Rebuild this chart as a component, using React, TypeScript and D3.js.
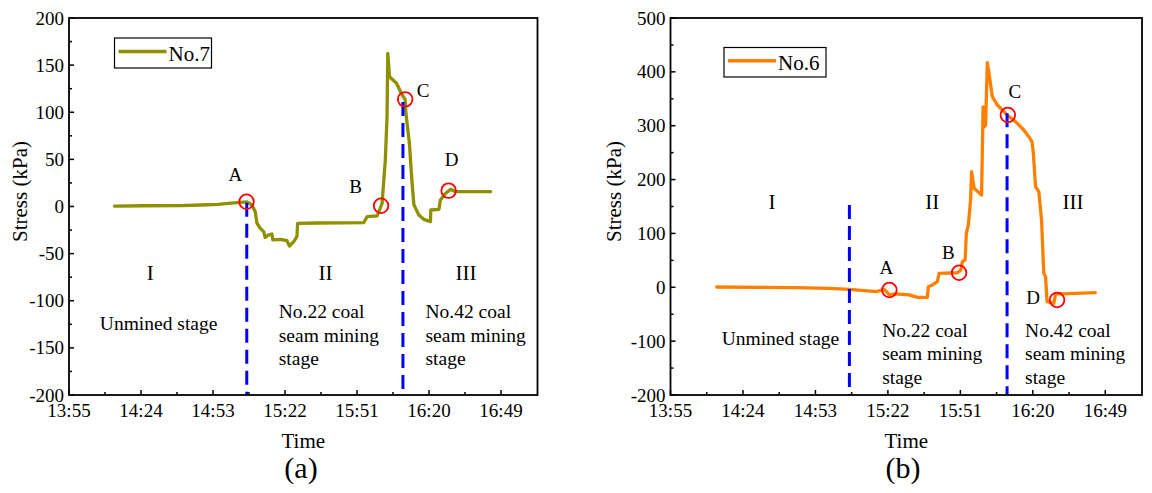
import React from "react";
import * as d3 from "d3";

// ---------- DATA ----------
// time in minutes after 13:55
const TIME_TICK_LABELS = ["13:55", "14:24", "14:53", "15:22", "15:51", "16:20", "16:49"];
const TIME_TICK_STEP = 29;
const TIME_MAX = 188.7;

// No.7 (panel a)
const no7Minutes = [18.3, 30, 45, 52.8, 60, 67.6, 71.7, 73.7, 75, 75.7, 77, 78.4, 79, 80.4, 81.7, 82.1, 85.1, 87.8, 88.8, 90.5, 91.8, 92.1, 100, 110, 118.7, 120.1, 124.1, 124.8, 126.1, 126.5, 127.4, 128.1, 128.4, 129.1, 131.9, 134.2, 135.4, 135.7, 137.1, 138.1, 138.9, 140.9, 142.9, 145.6, 145.7, 149, 149.6, 151.7, 153.7, 155.7, 160, 169.8];
const no7Stress = [0.5, 0.8, 1, 1.6, 2.2, 4, 5, 1.6, -5.5, -17.8, -23, -26.7, -32.7, -30.2, -29.2, -35.5, -34.8, -36.3, -42, -37.3, -32, -17.8, -17.5, -17.3, -17.2, -10.8, -10, -5.5, 3.4, 17.5, 49, 95, 162.5, 137.7, 130.7, 118.3, 113.7, 98.9, 67, 28, 2, -9, -13.6, -16, -3.7, -3, 6.9, 14, 18.2, 15.7, 15.8, 15.7];

// No.6 (panel b)
const no6Minutes = [18.5, 35, 50, 63.6, 71.6, 82.3, 85.6, 87.6, 90.2, 95.5, 98.9, 102.8, 103.2, 104.8, 106.8, 107.5, 114.8, 116.2, 116.8, 117.9, 118.4, 119.2, 120.1, 120.5, 121.5, 124.5, 125.1, 125.5, 126.1, 126.8, 127.5, 128.8, 130.8, 134.7, 138.1, 141.4, 143.4, 144.7, 145.2, 146.1, 147.4, 148.5, 149.4, 150.1, 150.7, 153.4, 154.1, 156.7, 170];
const no6Stress = [0.5, 0, -0.5, -1.9, -3.8, -8, -3.8, -14, -12.4, -14, -18.6, -18.6, 1, 4.3, 10.4, 26, 27, 32, 47.5, 50.7, 100, 115.7, 162, 214.6, 183.8, 171.4, 335, 298, 301, 417, 397, 354, 338.5, 320, 307.5, 292, 279.6, 270, 250, 186.8, 177.5, 125, 26, 19.7, -26.7, -29.7, -12.4, -12.4, -10];

// key points A-D
const pointLabels = ["A", "B", "C", "D"];
const no7PointMinutes = [71.5, 125.7, 135.4, 152.9];
const no7PointStress = [5.1, 0.8, 113.7, 16.8];
const no6PointMinutes = [87.6, 115.5, 135, 154.7];
const no6PointStress = [-5, 27, 320, -23.6];

// stage boundaries (dashed lines)
const no7StageMinutes = [71.6, 134.5];
const no7StageTops = [4, 111];
const no6StageMinutes = [71.6, 134.7];
const no6StageTops = [153, 323];

const stageNumerals = ["I", "II", "III"];
const stageLines = [["Unmined stage"], ["No.22 coal", "seam mining", "stage"], ["No.42 coal", "seam mining", "stage"]];

const FONT = "Liberation Serif, Tinos, Times New Roman, DejaVu Serif, serif";

type PanelProps = {
  left: number; right: number; top: number; bottom: number;
  yMin: number; yMax: number; yMajor: number;
  minutes: number[]; stress: number[]; color: string; name: string;
  ptMin: number[]; ptVal: number[];
  ptLabelPos: [number, number][];
  stageMin: number[]; stageTop: number[];
  numeralPos: [number, number][];
  textPos: [number, number, string][];
  legend: { x: number; y: number; w: number; h: number };
  panelLabel: string; panelLabelX: number; yTitleX: number;
};

function Panel(p: PanelProps) {
  const x = d3.scaleLinear().domain([0, TIME_MAX]).range([p.left, p.right]);
  const y = d3.scaleLinear().domain([p.yMin, p.yMax]).range([p.bottom, p.top]);
  const line = d3.line<number>().x((_, i) => x(p.minutes[i])).y((d) => y(d));
  const xMajor = TIME_TICK_LABELS.map((_, i) => i * TIME_TICK_STEP);
  const xMinor = xMajor.map((v) => v + TIME_TICK_STEP / 2).filter((v) => v < TIME_MAX - 1);
  const yMajorTicks = d3.range(p.yMin, p.yMax + 0.001, p.yMajor);
  const yMinorTicks = d3.range(p.yMin + p.yMajor / 2, p.yMax, p.yMajor);
  const cx = (p.left + p.right) / 2;
  const t = { fontFamily: FONT };
  return (
    <g>
      <path d={line(p.stress) || ""} fill="none" stroke={p.color} strokeWidth={3.3} strokeLinejoin="round" strokeLinecap="round" />
      {p.stageMin.map((m, i) => (
        <line key={"s" + i} x1={x(m)} x2={x(m)} y1={y(p.stageTop[i])} y2={p.bottom} stroke="#0000FF" strokeWidth={3} strokeDasharray="14,7" />
      ))}
      {p.ptMin.map((m, i) => (
        <circle key={"c" + i} cx={x(m)} cy={y(p.ptVal[i])} r={7.3} fill="none" stroke="#FF0000" strokeWidth={1.8} />
      ))}
      {pointLabels.map((l, i) => (
        <text key={"pl" + i} x={x(p.ptLabelPos[i][0])} y={y(p.ptLabelPos[i][1])} textAnchor="middle" fontSize={19} style={t}>{l}</text>
      ))}
      {stageNumerals.map((n, i) => (
        <text key={"n" + i} x={x(p.numeralPos[i][0])} y={y(p.numeralPos[i][1])} textAnchor="middle" fontSize={21} style={t}>{n}</text>
      ))}
      {stageLines.map((lines, i) => (
        <text key={"t" + i} x={x(p.textPos[i][0])} y={y(p.textPos[i][1])} textAnchor={p.textPos[i][2]} fontSize={19.5} style={t}>
          {lines.map((s, j) => (
            <tspan key={j} x={x(p.textPos[i][0])} dy={j === 0 ? 0 : 23.5}>{s}</tspan>
          ))}
        </text>
      ))}
      <rect x={p.left} y={p.top} width={p.right - p.left} height={p.bottom - p.top} fill="none" stroke="#000" strokeWidth={1.8} />
      {xMajor.map((v, i) => (
        <g key={"xm" + i}>
          <line x1={x(v)} x2={x(v)} y1={p.bottom} y2={p.bottom - 5} stroke="#000" strokeWidth={1.5} />
          <text x={x(v)} y={417} textAnchor="middle" fontSize={19} style={t}>{TIME_TICK_LABELS[i]}</text>
        </g>
      ))}
      {xMinor.map((v, i) => (
        <line key={"xn" + i} x1={x(v)} x2={x(v)} y1={p.bottom} y2={p.bottom - 3} stroke="#000" strokeWidth={1.5} />
      ))}
      {yMajorTicks.map((v, i) => (
        <g key={"ym" + i}>
          <line x1={p.left} x2={p.left + 5} y1={y(v)} y2={y(v)} stroke="#000" strokeWidth={1.5} />
          <text x={p.left - 5} y={y(v) + 6.5} textAnchor="end" fontSize={19} style={t}>{v}</text>
        </g>
      ))}
      {yMinorTicks.map((v, i) => (
        <line key={"yn" + i} x1={p.left} x2={p.left + 3} y1={y(v)} y2={y(v)} stroke="#000" strokeWidth={1.5} />
      ))}
      <text x={cx} y={448} textAnchor="middle" fontSize={21} style={t}>Time</text>
      <text transform={`translate(${p.yTitleX},${(p.top + p.bottom) / 2 - 15}) rotate(-90)`} textAnchor="middle" fontSize={21} style={t}>Stress (kPa)</text>
      <text x={p.panelLabelX} y={478} textAnchor="middle" fontSize={30} style={t}>{p.panelLabel}</text>
      <rect x={p.legend.x} y={p.legend.y} width={p.legend.w} height={p.legend.h} fill="#fff" stroke="#000" strokeWidth={1.2} />
      <line x1={p.legend.x + 4} x2={p.legend.x + 52} y1={p.legend.y + p.legend.h / 2 - 1.5} y2={p.legend.y + p.legend.h / 2 - 1.5} stroke={p.color} strokeWidth={3.5} />
      <text x={p.legend.x + 54} y={p.legend.y + p.legend.h / 2 + 7.5} fontSize={21} style={t}>{p.name}</text>
    </g>
  );
}

export default function App() {
  return (
    <svg width={1152} height={493} style={{ position: "absolute", left: 0, top: 0, background: "#fff", fontFamily: FONT }}>
      <Panel
        left={69} right={537.5} top={18} bottom={395}
        yMin={-200} yMax={200} yMajor={50}
        minutes={no7Minutes} stress={no7Stress} color="#8f8f00" name="No.7"
        ptMin={no7PointMinutes} ptVal={no7PointStress}
        ptLabelPos={[[67, 27], [115.4, 14.3], [142.6, 116.7], [154.1, 43.5]]}
        stageMin={no7StageMinutes} stageTop={no7StageTops}
        numeralPos={[[32.7, -78.5], [103.3, -78.5], [159.9, -78.5]]}
        textPos={[[36.1, -131, "middle"], [84.5, -118.6, "start"], [143.6, -118.6, "start"]]}
        legend={{ x: 114.5, y: 38, w: 97, h: 30 }}
        panelLabel="(a)" panelLabelX={301} yTitleX={27}
      />
      <Panel
        left={670.5} right={1142} top={18} bottom={395}
        yMin={-200} yMax={500} yMajor={100}
        minutes={no6Minutes} stress={no6Stress} color="#FF8000" name="No.6"
        ptMin={no6PointMinutes} ptVal={no6PointStress}
        ptLabelPos={[[86.4, 23.8], [111.2, 52.5], [137.8, 351.5], [145.1, -31]]}
        stageMin={no6StageMinutes} stageTop={no6StageTops}
        numeralPos={[[40.6, 145.4], [104.8, 145.4], [161.1, 145.4]]}
        textPos={[[44, -107, "middle"], [84.7, -91.7, "start"], [141.9, -91.7, "start"]]}
        legend={{ x: 724, y: 47.5, w: 102, h: 29.5 }}
        panelLabel="(b)" panelLabelX={903} yTitleX={621}
      />
    </svg>
  );
}
